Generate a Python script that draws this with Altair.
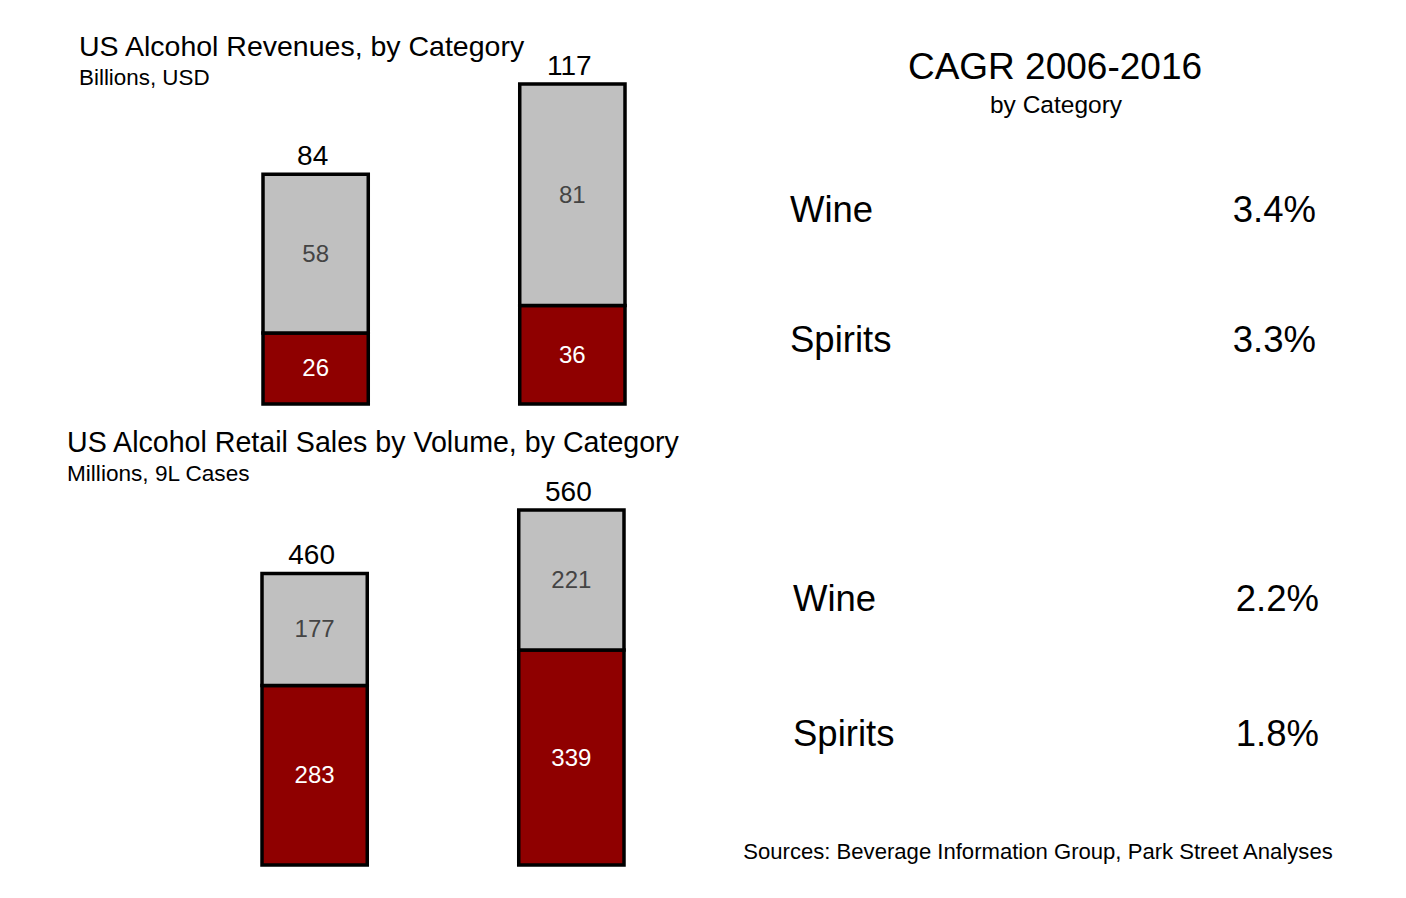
import altair as alt
import pandas as pd

# ---------------- data ----------------
years = ["2006", "2016"]
segments = ["Spirits", "Wine"]
rev_spirits = [26, 36]
rev_wine = [58, 81]
vol_spirits = [283, 339]
vol_wine = [177, 221]
cagr_categories = ["Wine", "Spirits"]
cagr_revenue = ["3.4%", "3.3%"]
cagr_volume = ["2.2%", "1.8%"]

FONT = "Liberation Sans"
RED = "#8f0000"
GRAY = "#c0c0c0"


def stacked(spirits, wine, x_range, y_range, pad, total_dy):
    rows = []
    for i, yr in enumerate(years):
        rows.append({"year": yr, "cat": "Spirits", "order": 0, "value": spirits[i]})
        rows.append({"year": yr, "cat": "Wine", "order": 1, "value": wine[i]})
    df = pd.DataFrame(rows)
    totals = [s + w for s, w in zip(spirits, wine)]
    xs = alt.X("year:N", axis=None,
               scale=alt.Scale(domain=years, range=x_range, paddingInner=pad, paddingOuter=0))
    ys = alt.Scale(domain=[0, max(totals)], range=y_range, nice=False, zero=True)
    base = alt.Chart(df).transform_stack(
        stack="value", groupby=["year"], as_=["v0", "v1"],
        sort=[alt.SortField("order", order="ascending")]
    ).transform_calculate(mid="(datum.v0 + datum.v1) / 2")
    bars = base.mark_bar(stroke="black", strokeWidth=3.5).encode(
        x=xs,
        y=alt.Y("v0:Q", axis=None, scale=ys),
        y2="v1:Q",
        color=alt.Color("cat:N", legend=None,
                        scale=alt.Scale(domain=segments, range=[RED, GRAY])),
    )
    labels = base.mark_text(font=FONT, fontSize=24, baseline="middle", dy=1).encode(
        x=xs,
        y=alt.Y("mid:Q", axis=None, scale=ys),
        text="value:Q",
        color=alt.condition("datum.cat == 'Spirits'", alt.value("#ffffff"), alt.value("#444444")),
    )
    tot = alt.Chart(df).transform_aggregate(
        total="sum(value)", groupby=["year"]
    ).mark_text(font=FONT, fontSize=28, baseline="bottom", dy=total_dy, dx=-3,
                color="#000000").encode(
        x=xs,
        y=alt.Y("total:Q", axis=None, scale=ys),
        text="total:Q",
    )
    return alt.layer(bars, labels, tot)


def cagr_block(values, y_range, x_left, x_right):
    df = pd.DataFrame({"cat": cagr_categories, "val": values})
    ys = alt.Y("cat:N", axis=None,
               scale=alt.Scale(type="point", domain=cagr_categories, range=y_range, padding=0))
    lab = alt.Chart(df).mark_text(font=FONT, fontSize=36.5, align="left", baseline="middle",
                                  color="#000000").encode(
        x=alt.value(x_left), y=ys, text="cat:N")
    val = alt.Chart(df).mark_text(font=FONT, fontSize=36.5, align="right", baseline="middle",
                                  color="#000000").encode(
        x=alt.value(x_right), y=ys, text="val:N")
    return alt.layer(lab, val)


def note(text, x, y, size, align="left", color="#000000"):
    return alt.Chart(alt.Data(values=[{}])).mark_text(
        text=text, font=FONT, fontSize=size, align=align, baseline="middle", color=color
    ).encode(x=alt.value(x), y=alt.value(y))


top = stacked(rev_spirits, rev_wine, [263, 625], [404, 84], 0.59, -3)
bottom = stacked(vol_spirits, vol_wine, [262, 624], [865, 510], 0.59, -3)

cagr_top = cagr_block(cagr_revenue, [211, 341], 790, 1316)
cagr_bot = cagr_block(cagr_volume, [600, 735], 793, 1319)

notes = [
    note("US Alcohol Revenues, by Category", 79, 47, 28.5),
    note("Billions, USD", 79, 78, 22.4),
    note("US Alcohol Retail Sales by Volume, by Category", 67, 443, 28.6),
    note("Millions, 9L Cases", 67, 474, 22.6),
    note("CAGR 2006-2016", 1055, 68, 37, align="center"),
    note("by Category", 1056, 106, 24.5, align="center"),
    note("Sources: Beverage Information Group, Park Street Analyses", 1038, 852, 22.1, align="center"),
]

chart = alt.layer(top, bottom, cagr_top, cagr_bot, *notes).resolve_scale(
    x="independent", y="independent", color="independent"
).properties(
    width=1406, height=898,
    autosize=alt.AutoSizeParams(type="none"),
    padding=0,
    background="#ffffff",
).configure_view(stroke=None)

chart.save("out.html", embed_options={"renderer": "svg", "actions": False})
